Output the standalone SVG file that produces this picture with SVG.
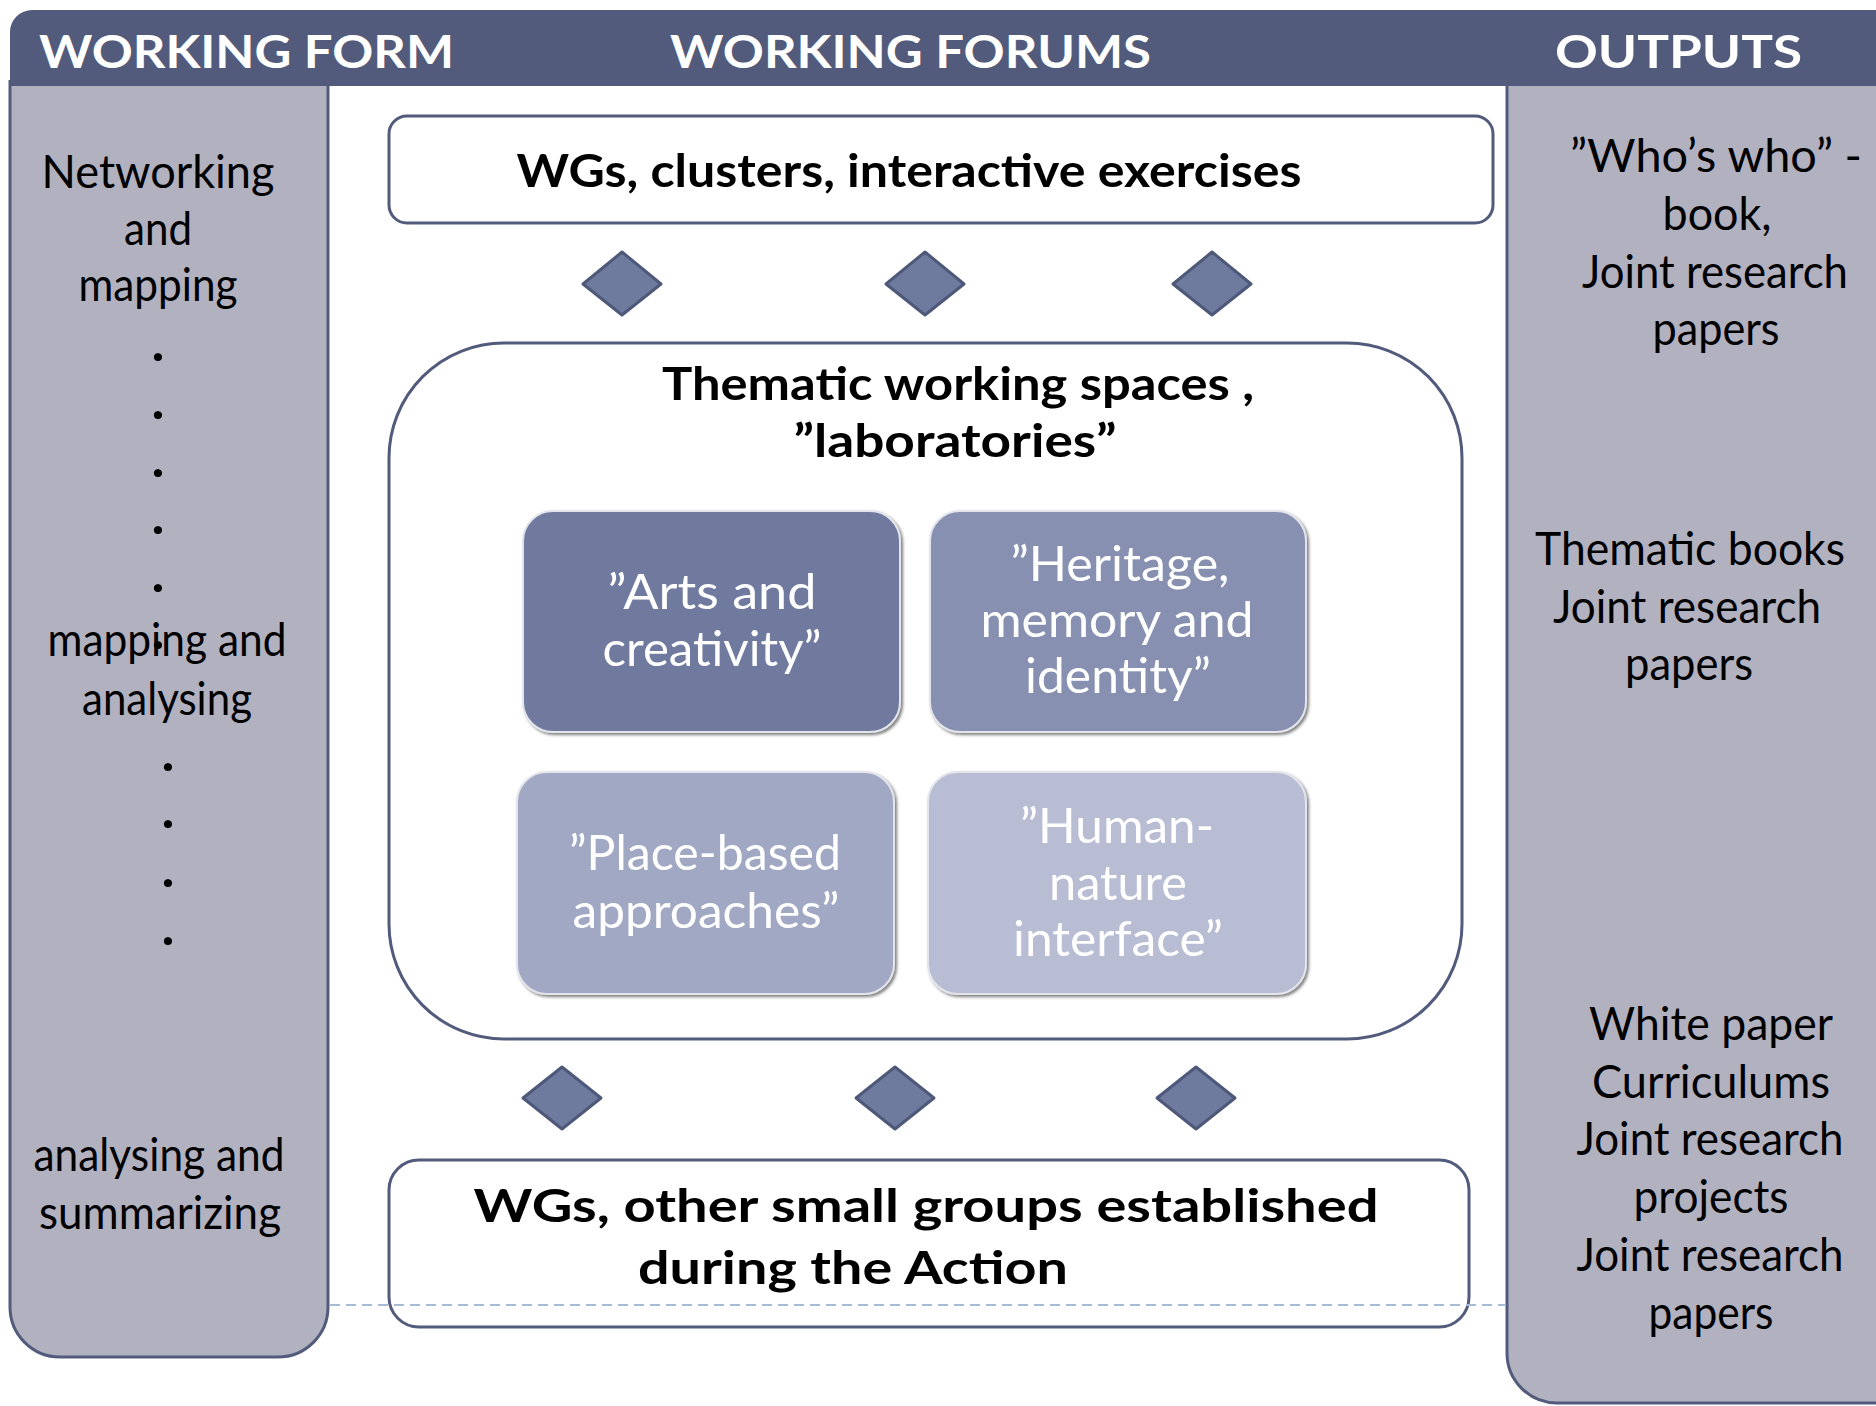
<svg xmlns="http://www.w3.org/2000/svg" width="1876" height="1406" viewBox="0 0 1876 1406">
<defs>
<style>
.hdr{font-family:Lato,"Liberation Sans",sans-serif;font-weight:bold;font-size:45px;fill:#ffffff}
.reg{font-family:Lato,"Liberation Sans",sans-serif;font-size:46px;fill:#000000;text-anchor:middle}
.dot{font-family:Lato,"Liberation Sans",sans-serif;font-weight:900;font-size:50px;fill:#000000;text-anchor:middle}
.bold{font-family:Lato,"Liberation Sans",sans-serif;font-weight:bold;font-size:46px;fill:#000000;text-anchor:middle}
.wht{font-family:Lato,"Liberation Sans",sans-serif;font-size:48px;fill:#ffffff;text-anchor:middle}
.col{fill:#B1B1BF;stroke:#525B7C;stroke-width:3}
.box{fill:#ffffff;stroke:#525B7C;stroke-width:3}
.dia{fill:#6F7A9F;stroke:#4E5878;stroke-width:3;stroke-linejoin:round}
.tile{stroke:#E4E5EC;stroke-width:2;filter:url(#sh)}
</style>
<filter id="sh" x="-10%" y="-10%" width="125%" height="125%">
<feDropShadow dx="2" dy="2" stdDeviation="1.5" flood-color="#4a4a4a" flood-opacity="0.7"/>
</filter>
</defs>
<rect width="1876" height="1406" fill="#ffffff"/>

<g id="col-working-form">
<path class="col" d="M10,80 L10,1307 A50,50 0 0 0 60,1357 L278,1357 A50,50 0 0 0 328,1307 L328,80"/>
<text class="reg" x="158" y="188" textLength="233" lengthAdjust="spacingAndGlyphs">Networking</text>
<text class="reg" x="158" y="245" textLength="68" lengthAdjust="spacingAndGlyphs">and</text>
<text class="reg" x="158" y="301" textLength="159" lengthAdjust="spacingAndGlyphs">mapping</text>
<text class="dot" x="158" y="361">.</text>
<text class="dot" x="158" y="419">.</text>
<text class="dot" x="158" y="477">.</text>
<text class="dot" x="158" y="534">.</text>
<text class="dot" x="158" y="592">.</text>
<text class="reg" x="167" y="656" textLength="239" lengthAdjust="spacingAndGlyphs">mapping and</text>
<text class="dot" x="158" y="649">.</text>
<text class="reg" x="167" y="715" textLength="170" lengthAdjust="spacingAndGlyphs">analysing</text>
<text class="dot" x="168" y="771">.</text>
<text class="dot" x="168" y="828">.</text>
<text class="dot" x="168" y="887">.</text>
<text class="dot" x="168" y="945">.</text>
<text class="reg" x="159" y="1171" textLength="251" lengthAdjust="spacingAndGlyphs">analysing and</text>
<text class="reg" x="160" y="1229" textLength="242" lengthAdjust="spacingAndGlyphs">summarizing</text>
</g>

<g id="col-outputs">
<path class="col" d="M1507,80 L1507,1353 A50,50 0 0 0 1557,1403 L1880,1403 L1880,80"/>
<text class="reg" x="1716" y="172" textLength="292" lengthAdjust="spacingAndGlyphs">”Who’s who” -</text>
<text class="reg" x="1717" y="230" textLength="109" lengthAdjust="spacingAndGlyphs">book,</text>
<text class="reg" x="1715" y="288" textLength="266" lengthAdjust="spacingAndGlyphs">Joint research</text>
<text class="reg" x="1716" y="345" textLength="127" lengthAdjust="spacingAndGlyphs">papers</text>
<text class="reg" x="1690" y="565" textLength="310" lengthAdjust="spacingAndGlyphs">Thematic books</text>
<text class="reg" x="1687" y="623" textLength="268" lengthAdjust="spacingAndGlyphs">Joint research</text>
<text class="reg" x="1689" y="680" textLength="128" lengthAdjust="spacingAndGlyphs">papers</text>
<text class="reg" x="1711" y="1040" textLength="244" lengthAdjust="spacingAndGlyphs">White paper</text>
<text class="reg" x="1711" y="1098" textLength="238" lengthAdjust="spacingAndGlyphs">Curriculums</text>
<text class="reg" x="1710" y="1155" textLength="267" lengthAdjust="spacingAndGlyphs">Joint research</text>
<text class="reg" x="1711" y="1213" textLength="155" lengthAdjust="spacingAndGlyphs">projects</text>
<text class="reg" x="1710" y="1271" textLength="267" lengthAdjust="spacingAndGlyphs">Joint research</text>
<text class="reg" x="1711" y="1329" textLength="125" lengthAdjust="spacingAndGlyphs">papers</text>
</g>

<g id="header">
<path d="M10,86 L10,32 A22,22 0 0 1 32,10 L1876,10 L1876,86 Z" fill="#525B7C"/>
<text class="hdr" x="39" y="68" textLength="415" lengthAdjust="spacingAndGlyphs">WORKING FORM</text>
<text class="hdr" x="670" y="68" textLength="481" lengthAdjust="spacingAndGlyphs">WORKING FORUMS</text>
<text class="hdr" x="1555" y="68" textLength="247" lengthAdjust="spacingAndGlyphs">OUTPUTS</text>
</g>

<g id="top-box">
<rect class="box" x="389" y="116" width="1104" height="107" rx="18"/>
<text class="bold" x="909" y="187" textLength="785" lengthAdjust="spacingAndGlyphs">WGs, clusters, interactive exercises</text>
</g>

<g id="thematic-spaces">
<rect class="box" x="389" y="343" width="1073" height="696" rx="115"/>
<text class="bold" x="958" y="400" textLength="592" lengthAdjust="spacingAndGlyphs">Thematic working spaces ,</text>
<text class="bold" x="955" y="457" textLength="323" lengthAdjust="spacingAndGlyphs">”laboratories”</text>
</g>

<g id="arts">
<rect class="tile" x="523" y="511" width="377" height="221" rx="30" fill="#6F7A9F"/>
<text class="wht" x="712" y="609" textLength="209" lengthAdjust="spacingAndGlyphs">”Arts and</text>
<text class="wht" x="712" y="666" textLength="219" lengthAdjust="spacingAndGlyphs">creativity”</text>
</g>

<g id="heritage">
<rect class="tile" x="930" y="511" width="376" height="221" rx="30" fill="#8790B0"/>
<text class="wht" x="1120" y="581" textLength="219" lengthAdjust="spacingAndGlyphs">”Heritage,</text>
<text class="wht" x="1117" y="637" textLength="273" lengthAdjust="spacingAndGlyphs">memory and</text>
<text class="wht" x="1118" y="693" textLength="186" lengthAdjust="spacingAndGlyphs">identity”</text>
</g>

<g id="place">
<rect class="tile" x="517" y="772" width="377" height="222" rx="30" fill="#A1A8C3"/>
<text class="wht" x="705" y="870" textLength="272" lengthAdjust="spacingAndGlyphs">”Place-based</text>
<text class="wht" x="706" y="928" textLength="267" lengthAdjust="spacingAndGlyphs">approaches”</text>
</g>

<g id="human">
<rect class="tile" x="928" y="772" width="378" height="222" rx="30" fill="#B8BDD4"/>
<text class="wht" x="1117" y="843" textLength="194" lengthAdjust="spacingAndGlyphs">”Human-</text>
<text class="wht" x="1118" y="900" textLength="138" lengthAdjust="spacingAndGlyphs">nature</text>
<text class="wht" x="1118" y="956" textLength="210" lengthAdjust="spacingAndGlyphs">interface”</text>
</g>

<g id="bottom-box">
<rect class="box" x="389" y="1160" width="1080" height="167" rx="30"/>
<text class="bold" x="926" y="1222" font-size="48" textLength="905" lengthAdjust="spacingAndGlyphs">WGs, other small groups established</text>
<text class="bold" x="853" y="1284" font-size="48" textLength="430" lengthAdjust="spacingAndGlyphs">during the Action</text>
</g>

<g id="connectors">
<polygon class="dia" points="622,252 661,284 622,315 583,284"/>
<polygon class="dia" points="925,252 964,284 925,315 886,284"/>
<polygon class="dia" points="1212,252 1251,284 1212,315 1173,284"/>
<polygon class="dia" points="562,1067 601,1098 562,1129 523,1098"/>
<polygon class="dia" points="895,1067 934,1098 895,1129 856,1098"/>
<polygon class="dia" points="1196,1067 1235,1098 1196,1129 1157,1098"/>
<line x1="330" y1="1305" x2="1506" y2="1305" stroke="#A9BBD4" stroke-width="2" stroke-dasharray="10 6"/>
</g>
</svg>
